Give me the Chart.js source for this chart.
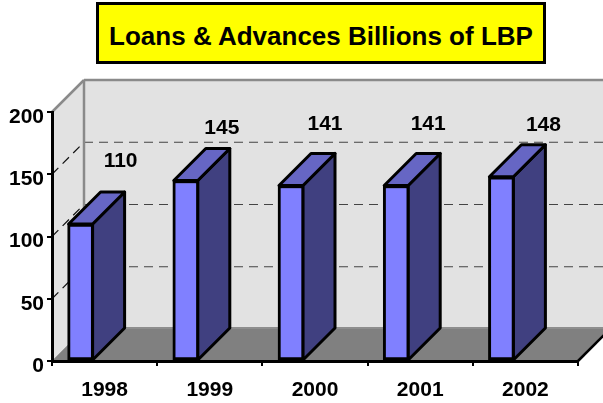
<!DOCTYPE html>
<html>
<head>
<meta charset="utf-8">
<script src="https://cdn.jsdelivr.net/npm/chart.js@4/dist/chart.umd.min.js"></script>
<style>
  html, body { margin: 0; padding: 0; background: #fff; overflow: hidden; }
  #wrap { position: relative; width: 603px; height: 403px; }
  #title {
    position: absolute; left: 96px; top: 2px; width: 444px; height: 56px;
    border: 3px solid #000; background: #ff0; color: #000;
    font: bold 26px "Liberation Sans", Arial, sans-serif;
    line-height: 63px; text-align: center; white-space: nowrap; z-index: 2;
  }
  #loans { position: absolute; left: 0; top: 0; }
</style>
</head>
<body>
<div id="wrap">
  <div id="title">Loans &amp; Advances Billions of LBP</div>
  <canvas id="loans" width="603" height="403"></canvas>
</div>
<script>
const years = ["1998", "1999", "2000", "2001", "2002"];
const loans = [110, 145, 141, 141, 148];
const yTicks = [0, 50, 100, 150, 200];
// value labels are hand placed: px above the bar top, px right of the bar centre
const labelLift = [63, 52, 61, 61, 52];
const labelRight = [40, 36, 34, 32, 42];

const DEPTH = 32;      // 3d depth of the box and the bars
const BAR_SHIFT = -24; // bars sit left of the category centre

function poly(ctx, pts, fill, stroke, lw) {
  ctx.beginPath();
  pts.forEach((p, i) => i ? ctx.lineTo(p[0], p[1]) : ctx.moveTo(p[0], p[1]));
  ctx.closePath();
  if (fill) { ctx.fillStyle = fill; ctx.fill(); }
  if (stroke) { ctx.strokeStyle = stroke; ctx.lineWidth = lw; ctx.lineJoin = "round"; ctx.stroke(); }
}

function line(ctx, x0, y0, x1, y1, color, lw, dash) {
  ctx.beginPath();
  ctx.setLineDash(dash || []);
  ctx.moveTo(x0, y0);
  ctx.lineTo(x1, y1);
  ctx.strokeStyle = color;
  ctx.lineWidth = lw;
  ctx.stroke();
  ctx.setLineDash([]);
}

const box3d = {
  id: "box3d",
  beforeDraw(chart) {
    const ctx = chart.ctx, y = chart.scales.y, a = chart.chartArea;
    const l = a.left, r = a.right, b = y.getPixelForValue(0), t = y.getPixelForValue(200);
    const bl = l + DEPTH, br = r + DEPTH;
    ctx.save();
    // walls
    poly(ctx, [[bl, t - DEPTH], [br, t - DEPTH], [br, b - DEPTH], [bl, b - DEPTH]], "#e2e2e2");
    poly(ctx, [[l, t], [bl, t - DEPTH], [bl, b - DEPTH], [l, b]], "#e2e2e2");
    // floor
    poly(ctx, [[l, b], [bl, b - DEPTH], [br, b - DEPTH], [r, b]], "#808080");
    line(ctx, bl, b - DEPTH - 1, br, b - DEPTH - 1, "#8e8e8e", 2);
    // dashed value lines, along the side wall then across the back
    yTicks.slice(1, -1).forEach(v => {
      const py = y.getPixelForValue(v);
      line(ctx, l, py, bl, py - DEPTH, "#111", 1.2, [9, 6]);
      line(ctx, bl, py - DEPTH, br, py - DEPTH, "#444", 1.2, [9, 6]);
    });
    // box edges
    line(ctx, l, t, bl, t - DEPTH, "#8a8a8a", 2.5);
    line(ctx, bl, t - DEPTH, br, t - DEPTH, "#8a8a8a", 2.5);
    line(ctx, bl, t - DEPTH, bl, b - DEPTH, "#8a8a8a", 2.5);
    line(ctx, l, b, bl, b - DEPTH, "#9a9a9a", 1);
    line(ctx, r, b, br, b - DEPTH, "#000", 2.5);
    ctx.restore();
  },
  beforeDatasetsDraw(chart) {
    const ctx = chart.ctx;
    ctx.save();
    ctx.translate(BAR_SHIFT, 0);
    // top and side faces go under the front face chart.js draws
    chart.getDatasetMeta(0).data.forEach(bar => {
      const p = bar.getProps(["x", "y", "base", "width"], true);
      const x0 = p.x - p.width / 2 + 1, x1 = p.x + p.width / 2 - 1;
      poly(ctx, [[x1, p.y], [x1 + DEPTH, p.y - DEPTH], [x1 + DEPTH, p.base - DEPTH], [x1, p.base]], "#404080", "#000", 3);
      poly(ctx, [[x0, p.y], [x1, p.y], [x1 + DEPTH, p.y - DEPTH], [x0 + DEPTH, p.y - DEPTH]], "#6666c4", "#000", 3);
    });
  },
  afterDatasetsDraw(chart) {
    const ctx = chart.ctx;
    ctx.restore();
    ctx.save();
    ctx.font = 'bold 21px "Liberation Sans", Arial, sans-serif';
    ctx.fillStyle = "#000";
    ctx.textAlign = "center";
    ctx.textBaseline = "middle";
    chart.getDatasetMeta(0).data.forEach((bar, i) => {
      const p = bar.getProps(["x", "y"], true);
      ctx.fillText(String(loans[i]), p.x + BAR_SHIFT + labelRight[i], p.y - labelLift[i]);
    });
    ctx.restore();
  }
};

new Chart(document.getElementById("loans"), {
  type: "bar",
  data: {
    labels: years,
    datasets: [{
      data: loans,
      backgroundColor: "#8080ff",
      borderColor: "#000",
      borderWidth: 3,
      borderSkipped: false,
      barThickness: 26,
      clip: false
    }]
  },
  plugins: [box3d],
  options: {
    responsive: false,
    animation: false,
    layout: { padding: { top: 112, right: 25, bottom: 0, left: 0 } },
    plugins: { legend: { display: false }, tooltip: { enabled: false } },
    scales: {
      x: {
        afterFit(s) { s.height = 42; },
        border: { color: "#000", width: 3 },
        grid: { offset: true, drawOnChartArea: false, color: "#000", lineWidth: 2, tickLength: 5, tickWidth: 2 },
        ticks: {
          color: "#000",
          padding: 12,
          maxRotation: 0,
          font: { family: '"Liberation Sans", Arial, sans-serif', size: 21, weight: "bold" }
        }
      },
      y: {
        min: 0,
        max: 200,
        afterFit(s) { s.width = 52; },
        afterBuildTicks(s) { s.ticks = yTicks.map(v => ({ value: v })); },
        border: { color: "#000", width: 3 },
        grid: { drawOnChartArea: false, color: "#000", lineWidth: 2, tickLength: 5 },
        ticks: {
          color: "#000",
          padding: 3,
          labelOffset: 5,
          font: { family: '"Liberation Sans", Arial, sans-serif', size: 21, weight: "bold" }
        }
      }
    }
  }
});
</script>
</body>
</html>
